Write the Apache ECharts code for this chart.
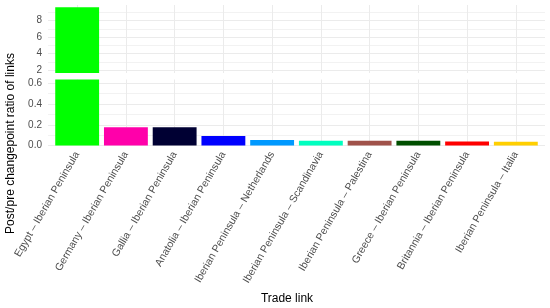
<!DOCTYPE html>
<html>
<head>
<meta charset="utf-8">
<script src="https://cdn.jsdelivr.net/npm/echarts@6/dist/echarts.min.js"></script>
<style>
html,body{margin:0;padding:0;background:#fff;}
#chart{width:550px;height:308px;}
</style>
</head>
<body>
<div id="chart"></div>
<script>
// ---- data ----
const categories = [
  'Egypt – Iberian Peninsula',
  'Germany – Iberian Peninsula',
  'Gallia – Iberian Peninsula',
  'Anatolia – Iberian Peninsula',
  'Iberian Peninsula – Netherlands',
  'Iberian Peninsula – Scandinavia',
  'Iberian Peninsula – Palestina',
  'Greece – Iberian Peninsula',
  'Britannia – Iberian Peninsula',
  'Iberian Peninsula – Italia'
];
const values = [9.63, 0.176, 0.176, 0.092, 0.052, 0.045, 0.045, 0.045, 0.038, 0.035];
const barColors = ['#00FF00', '#FF00AA', '#000033', '#0000FF', '#0099FF', '#00FFBF', '#A0524A', '#004F00', '#FF0000', '#FFCF00'];
const yTitle = 'Post/pre changepoint ratio of links';
const xTitle = 'Trade link';
// axis ranges of the two broken-axis panels
const upperRange = [1.635, 9.91];
const lowerRange = [0, 0.637];

// ---- chart ----
const FONT = 'Liberation Sans, Arial, Helvetica, sans-serif';
const M = '#EBEBEB';      // major grid
const m = '#F2F2F2';      // minor grid
const T = 'rgba(0,0,0,0)';
const TXT = '#4D4D4D';

const chart = echarts.init(document.getElementById('chart'), null, {renderer: 'canvas'});

const pTop = {top: 5, height: 68};
const pLow = {top: 79.5, height: 66};
const bgLeft = 48, bgRight = 5;          // panel extent
const barLeft = 52.8, barRight = 9.8;    // band extent (ggplot 0.6 expansion)
const vlLeft = 77.2, vlRight = 34.2;     // first..last category centre

const seriesData = values.map((v, i) => ({value: v, itemStyle: {color: barColors[i]}}));

const hiddenX = (g) => ({gridIndex: g, type: 'value', show: false, min: 0, max: 1});

const option = {
  animation: false,
  backgroundColor: '#fff',
  textStyle: {fontFamily: FONT},
  grid: [
    {left: bgLeft, right: bgRight, top: pTop.top, height: pTop.height},
    {left: bgLeft, right: bgRight, top: pLow.top, height: pLow.height},
    {left: vlLeft, right: vlRight, top: pTop.top, height: pTop.height},
    {left: vlLeft, right: vlRight, top: pLow.top, height: pLow.height},
    {left: barLeft, right: barRight, top: pTop.top, height: pTop.height},
    {left: barLeft, right: barRight, top: pLow.top, height: pLow.height}
  ],
  xAxis: [
    hiddenX(0),
    hiddenX(1),
    {gridIndex: 2, type: 'category', data: categories, boundaryGap: false,
      axisLine: {show: false}, axisTick: {show: false}, axisLabel: {show: false},
      splitLine: {show: true, interval: 0, lineStyle: {color: M, width: 1}}},
    {gridIndex: 3, type: 'category', data: categories, boundaryGap: false,
      axisLine: {show: false}, axisTick: {show: false}, axisLabel: {show: false},
      splitLine: {show: true, interval: 0, lineStyle: {color: M, width: 1}}},
    {gridIndex: 4, type: 'category', data: categories, boundaryGap: true,
      axisLine: {show: false}, axisTick: {show: false}, axisLabel: {show: false},
      splitLine: {show: false}},
    {gridIndex: 5, type: 'category', data: categories, boundaryGap: true,
      axisLine: {show: false}, axisTick: {show: false},
      axisLabel: {show: true, interval: 0, rotate: 60, margin: 7, fontSize: 10.5, color: TXT, fontFamily: FONT},
      splitLine: {show: false}}
  ],
  yAxis: [
    {gridIndex: 0, type: 'value', min: upperRange[0], max: upperRange[1], splitNumber: 8,
      axisLine: {show: false}, axisTick: {show: false},
      axisLabel: {fontSize: 10, color: TXT, margin: 6, fontFamily: FONT,
        formatter: v => (Math.abs(v / 2 - Math.round(v / 2)) < 1e-6 ? String(Math.round(v)) : '')},
      splitLine: {show: true, lineStyle: {color: [T, M, m, M, m, M, m, M, m, T], width: 1}}},
    {gridIndex: 1, type: 'value', min: lowerRange[0], max: lowerRange[1], splitNumber: 6,
      axisLine: {show: false}, axisTick: {show: false},
      axisLabel: {fontSize: 10, color: TXT, margin: 6, fontFamily: FONT,
        formatter: v => (Math.abs(v * 5 - Math.round(v * 5)) < 1e-6 ? v.toFixed(1) : '')},
      splitLine: {show: true, lineStyle: {color: [M, m, M, m, M, m, M, T], width: 1}}},
    {gridIndex: 2, type: 'value', show: false, min: 0, max: 1},
    {gridIndex: 3, type: 'value', show: false, min: 0, max: 1},
    {gridIndex: 4, type: 'value', min: upperRange[0], max: upperRange[1], show: false},
    {gridIndex: 5, type: 'value', min: lowerRange[0], max: lowerRange[1], show: false}
  ],
  series: [
    {type: 'bar', xAxisIndex: 4, yAxisIndex: 4, data: seriesData, barWidth: '90%', clip: true},
    {type: 'bar', xAxisIndex: 5, yAxisIndex: 5, data: seriesData, barWidth: '90%', clip: true}
  ],
  graphic: [
    {type: 'text', x: 11, y: 143.5, rotation: Math.PI / 2,
      style: {text: yTitle, fill: '#000', font: '12px ' + FONT, textAlign: 'center', textVerticalAlign: 'middle'}},
    {type: 'text', x: 287, y: 298.5,
      style: {text: xTitle, fill: '#000', font: '12px ' + FONT, textAlign: 'center', textVerticalAlign: 'middle'}}
  ]
};
chart.setOption(option);
</script>
</body>
</html>
